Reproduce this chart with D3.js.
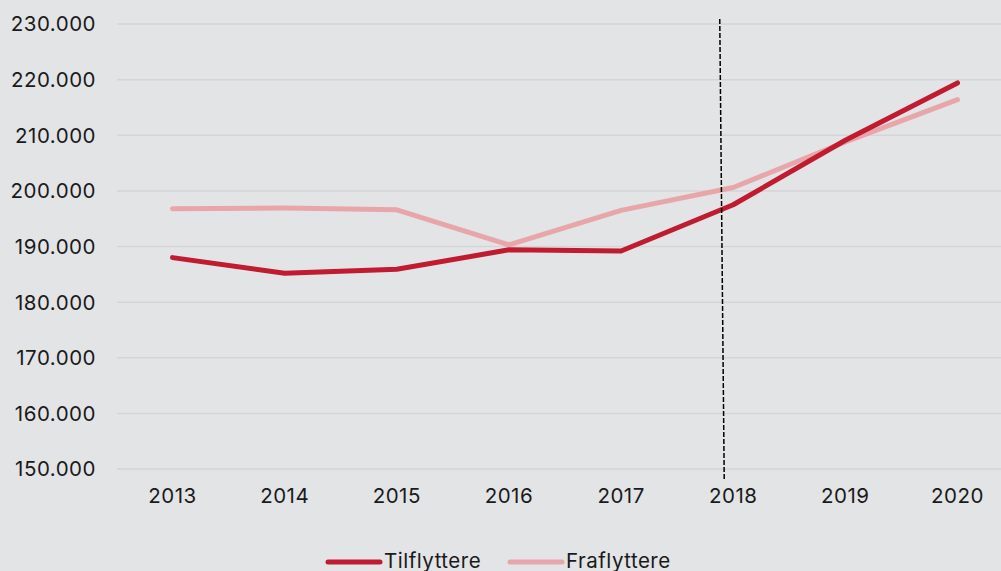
<!DOCTYPE html>
<html><head><meta charset="utf-8">
<script src="https://cdn.jsdelivr.net/npm/d3@7"></script>
<style>
html,body{margin:0;padding:0;background:#E3E4E6;}
svg{display:block;font-family:Inter,"Noto Sans",sans-serif;}
</style></head>
<body><svg id="c" width="1001" height="571"></svg>
<script>
const years = [2013, 2014, 2015, 2016, 2017, 2018, 2019, 2020];
const tilflyttere = [188000, 185200, 185900, 189400, 189200, 197500, 209100, 219400];
const fraflyttere = [196800, 196900, 196600, 190300, 196500, 200600, 208800, 216400];
const yTicks = [150000, 160000, 170000, 180000, 190000, 200000, 210000, 220000, 230000];
const seriesNames = ["Tilflyttere", "Fraflyttere"];
const markerTop = 2017.88, markerBottom = 2017.92;

const svg = d3.select("#c");
const x = d3.scaleLinear().domain([2013, 2020]).range([172.5, 957.5]);
const y = d3.scaleLinear().domain([150000, 230000]).range([469, 24]);
const fmt = v => d3.format(",")(v).replace(/,/g, ".");
const FS = 20.5, LS = "0.5px";

svg.append("g").selectAll("line").data(yTicks).join("line")
  .attr("x1", 117).attr("x2", 1001)
  .attr("y1", d => y(d)).attr("y2", d => y(d))
  .attr("stroke", "#D4D5D7").attr("stroke-width", 1.5);

svg.append("g").selectAll("text").data(yTicks).join("text")
  .attr("x", 96).attr("y", d => y(d)).attr("dy", "0.36em")
  .attr("text-anchor", "end").attr("font-size", FS).attr("letter-spacing", LS).attr("fill", "#1a1a1a")
  .text(fmt);

svg.append("g").selectAll("text").data(years).join("text")
  .attr("x", d => x(d)).attr("y", 503)
  .attr("text-anchor", "middle").attr("font-size", FS).attr("letter-spacing", LS).attr("fill", "#1a1a1a")
  .text(d => d);

const line = d3.line().x((d, i) => x(years[i])).y(d => y(d));
const colors = ["#C01B30", "#E8A6AB"];

svg.append("path").datum(fraflyttere).attr("d", line)
  .attr("fill", "none").attr("stroke", colors[1]).attr("stroke-width", 5)
  .attr("stroke-linecap", "round").attr("stroke-linejoin", "round");
svg.append("path").datum(tilflyttere).attr("d", line)
  .attr("fill", "none").attr("stroke", colors[0]).attr("stroke-width", 5)
  .attr("stroke-linecap", "round").attr("stroke-linejoin", "round");

svg.append("line")
  .attr("x1", x(markerTop)).attr("x2", x(markerBottom))
  .attr("y1", 19).attr("y2", 481)
  .attr("stroke", "#000").attr("stroke-width", 1.5).attr("stroke-dasharray", "5,2");

const legend = [{n: seriesNames[0], c: colors[0], x: 328}, {n: seriesNames[1], c: colors[1], x: 510}];
const lg = svg.append("g").selectAll("g").data(legend).join("g");
lg.append("line").attr("x1", d => d.x).attr("x2", d => d.x + 52)
  .attr("y1", 562).attr("y2", 562).attr("stroke", d => d.c).attr("stroke-width", 5).attr("stroke-linecap", "round");
lg.append("text").attr("x", d => d.x + 56).attr("y", 568)
  .attr("font-size", FS).attr("letter-spacing", LS).attr("fill", "#1a1a1a").text(d => d.n);
</script></body></html>
